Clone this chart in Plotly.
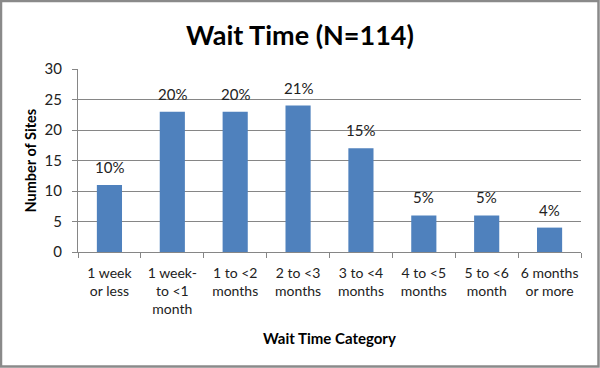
import plotly.graph_objects as go

categories = ["1 week<br>or less", "1 week-<br>to <1<br>month", "1 to <2<br>months", "2 to <3<br>months",
              "3 to <4<br>months", "4 to <5<br>months", "5 to <6<br>month", "6 months<br>or more"]
sites = [11, 23, 23, 24, 17, 6, 6, 4]
pct_labels = ["10%", "20%", "20%", "21%", "15%", "5%", "5%", "4%"]
y_ticks = [0, 5, 10, 15, 20, 25, 30]

W, H = 600, 368
ml, mr, mt, mb = 78, 19, 69, 116
pw, ph = W - ml - mr, H - mt - mb

FONT = "Lato, 'Open Sans', sans-serif"

fig = go.Figure(go.Bar(
    x=categories, y=sites,
    marker=dict(color="#4F81BD", line=dict(width=0)),
    cliponaxis=False, hoverinfo="skip",
))

annotations = [dict(x=c, y=v, xref="x", yref="y", text=t, showarrow=False,
                    yanchor="bottom", yshift=7, font=dict(size=15, color="#222222", family=FONT))
               for c, v, t in zip(categories, sites, pct_labels)]
annotations.append(dict(text="<b>Wait Time Category</b>", xref="paper", yref="paper",
                        x=0.5, y=(252 - 338) / ph, xanchor="center", yanchor="middle",
                        showarrow=False, font=dict(size=15, color="black", family=FONT)))
annotations.append(dict(text="<b>Number of Sites</b>", xref="paper", yref="paper",
                        x=(30 - ml) / pw, y=0.5, xanchor="center", yanchor="middle", textangle=-90,
                        showarrow=False, font=dict(size=14.5, color="black", family=FONT)))

fig.update_layout(
    width=W, height=H,
    margin=dict(l=ml, r=mr, t=mt, b=mb, autoexpand=False),
    paper_bgcolor="white", plot_bgcolor="white",
    bargap=0.6,
    showlegend=False,
    font=dict(family=FONT, color="#222222"),
    title=dict(text="<b>Wait Time (N=114)</b>", x=0.5, xref="container", xanchor="center",
               y=1 - 36 / H, yanchor="middle", font=dict(size=27, color="black", family=FONT)),
    xaxis=dict(
        type="category", tickson="boundaries", ticks="outside", ticklen=5, tickangle=0,
        tickcolor="#868686", showline=True, linecolor="#868686", linewidth=1,
        tickfont=dict(size=14, color="#222222"), ticklabelstandoff=8,
    ),
    yaxis=dict(
        range=[0, 30], tickvals=y_ticks, ticks="outside", ticklen=5, tickcolor="#868686",
        showline=True, linecolor="#868686", linewidth=1,
        showgrid=True, gridcolor="#868686", gridwidth=1, zeroline=False,
        tickfont=dict(size=15, color="#222222"), ticklabelstandoff=7,
    ),
    annotations=annotations,
    shapes=[dict(type="rect", xref="paper", yref="paper",
                 x0=(-ml + 1) / pw, x1=1 + (mr - 1.5) / pw,
                 y0=-(mb - 1.5) / ph, y1=1 + (mt - 1) / ph,
                 line=dict(color="#8a8a8a", width=2.5), layer="above")],
)

fig.write_html("out.html", config={"displayModeBar": False},
               post_script="document.body.style.margin='0px';document.body.style.overflow='hidden';")
